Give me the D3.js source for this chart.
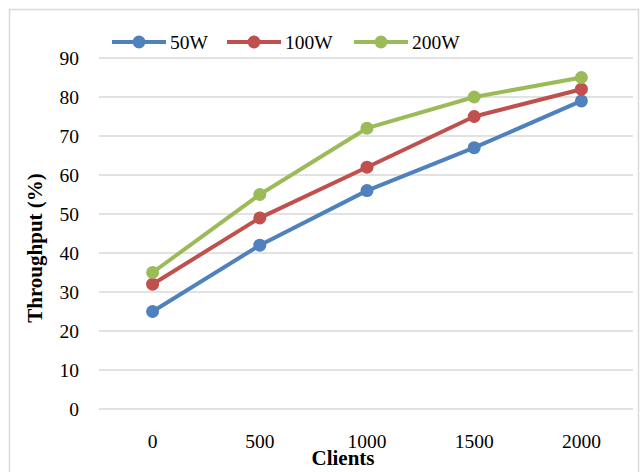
<!DOCTYPE html>
<meta charset="utf-8">
<style>
  body { margin: 0; background: #fff; }
</style>
<script src="https://d3js.org/d3.v7.min.js"></script>
<div id="chart"></div>
<script>
// data
var clients = ["0", "500", "1000", "1500", "2000"];
var seriesNames = ["50W", "100W", "200W"];
var colors = ["#4F81BD", "#C0504D", "#9BBB59"];
var values50 = [25, 42, 56, 67, 79];
var values100 = [32, 49, 62, 75, 82];
var values200 = [35, 55, 72, 80, 85];
var yTicks = [0, 10, 20, 30, 40, 50, 60, 70, 80, 90];

var FONT = "Liberation Serif";

var series = [values50, values100, values200].map(function(v, i) {
  return { name: seriesNames[i], color: colors[i], values: v };
});

var W = 641, H = 472;
var svg = d3.select("#chart").append("svg")
  .attr("width", W).attr("height", H)
  .attr("font-family", FONT)
  .style("display", "block");

// chart area border
svg.append("rect")
  .attr("x", 9.5).attr("y", 9.5)
  .attr("width", 629).attr("height", 480)
  .attr("fill", "none")
  .attr("stroke", "#d9d9d9")
  .attr("stroke-width", 1.5);

var x = d3.scaleBand().domain(clients).range([99, 635]);
var y = d3.scaleLinear().domain([0, 90]).range([409, 58]);

// gridlines
svg.append("g")
  .selectAll("line")
  .data(yTicks)
  .enter().append("line")
    .attr("x1", 99).attr("x2", 633)
    .attr("y1", function(d) { return y(d); })
    .attr("y2", function(d) { return y(d); })
    .attr("stroke", "#d9d9d9")
    .attr("stroke-width", 1.5);

// y axis labels
var yAxis = svg.append("g")
  .attr("transform", "translate(79,0)")
  .call(d3.axisLeft(y).tickValues(yTicks).tickSize(0).tickPadding(0));
yAxis.attr("font-family", FONT).attr("font-size", 19.5);
yAxis.select(".domain").remove();
yAxis.selectAll("text")
  .attr("fill", "#000");

// x axis labels
var xAxis = svg.append("g")
  .attr("transform", "translate(0,434)")
  .call(d3.axisBottom(x).tickSize(0).tickPadding(0));
xAxis.attr("font-family", FONT).attr("font-size", 19.5);
xAxis.select(".domain").remove();
xAxis.selectAll("text")
  .attr("fill", "#000");

// axis titles
svg.append("text")
  .attr("x", 343).attr("y", 465)
  .attr("text-anchor", "middle")
  .attr("font-size", 21).attr("font-weight", "bold")
  .text("Clients");

svg.append("text")
  .attr("transform", "translate(42,248) rotate(-90)")
  .attr("text-anchor", "middle")
  .attr("font-size", 21).attr("font-weight", "bold")
  .text("Throughput (%)");

// lines and markers
var line = d3.line()
  .x(function(d, i) { return x(clients[i]) + x.bandwidth() / 2; })
  .y(function(d) { return y(d); });

series.forEach(function(s) {
  svg.append("path")
    .datum(s.values)
    .attr("d", line)
    .attr("fill", "none")
    .attr("stroke", s.color)
    .attr("stroke-width", 4)
    .attr("stroke-linejoin", "round");

  svg.append("g")
    .selectAll("circle")
    .data(s.values)
    .enter().append("circle")
      .attr("cx", function(d, i) { return x(clients[i]) + x.bandwidth() / 2; })
      .attr("cy", function(d) { return y(d); })
      .attr("r", 6.5)
      .attr("fill", s.color);
});

// legend
var legendX = [112, 227, 354];
var legend = svg.append("g").selectAll("g")
  .data(series)
  .enter().append("g")
    .attr("transform", function(d, i) { return "translate(" + legendX[i] + ",42)"; });

legend.append("line")
  .attr("x1", 0).attr("x2", 54)
  .attr("stroke", function(d) { return d.color; })
  .attr("stroke-width", 4);
legend.append("circle")
  .attr("cx", 27).attr("r", 6.5)
  .attr("fill", function(d) { return d.color; });
legend.append("text")
  .attr("x", 58).attr("y", 7)
  .attr("font-size", 19.5)
  .text(function(d) { return d.name; });
</script>
